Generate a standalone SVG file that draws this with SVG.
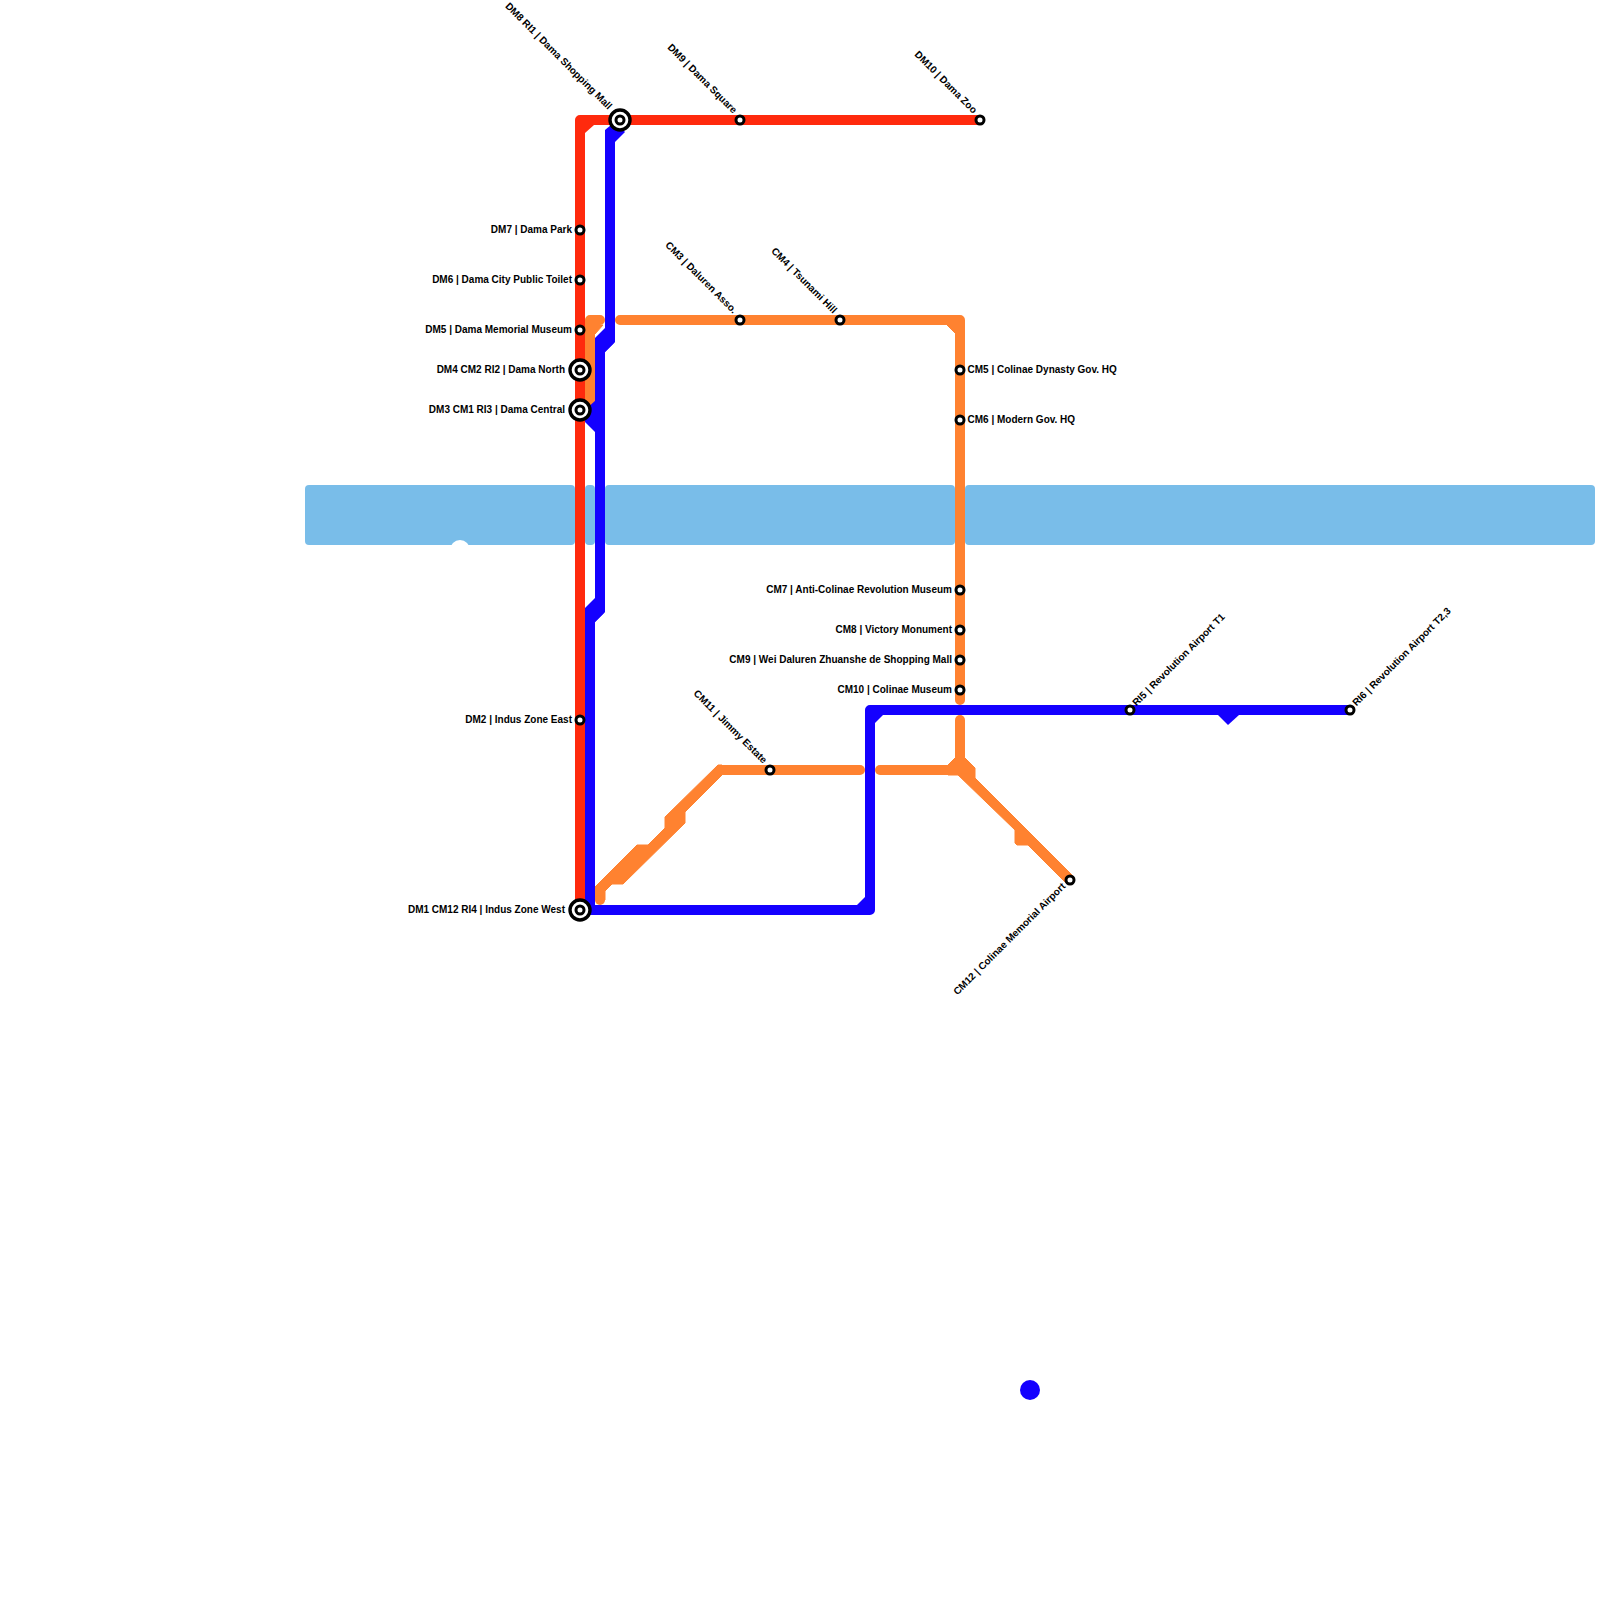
<svg xmlns="http://www.w3.org/2000/svg" width="1600" height="1600" viewBox="0 0 1600 1600">
<defs>
<style>
.w{fill:#79bde9}
.ln{fill:none;stroke-width:10;stroke-linejoin:round}
.cap{stroke-linecap:round}
.red{stroke:#ff2a0d}.rf{fill:#ff2a0d}
.blue{stroke:#1400ff}.bf{fill:#1400ff}
.org{stroke:#ff8230}.of{fill:#ff8230;stroke:#ff8230;stroke-width:1;stroke-linejoin:round}
.s{fill:#fff;stroke:#000;stroke-width:3}
.x{fill:#fff;stroke:#000;stroke-width:3.4}
text{font-family:"Liberation Sans",Arial,sans-serif;font-size:10px;font-weight:700;fill:#000}
.e{text-anchor:end}
</style>
</defs>
<rect width="1600" height="1600" fill="#fff"/>
<g id="water">
<rect class="w" x="305" y="485" width="270" height="60" rx="4"/>
<rect class="w" x="585" y="485" width="10" height="60" rx="4"/>
<rect class="w" x="605" y="485" width="350" height="60" rx="4"/>
<rect class="w" x="965" y="485" width="630" height="60" rx="4"/>
<circle cx="460" cy="550" r="10" fill="#fff"/>
</g>
<g id="connectors">
<path class="ln red" d="M580 910V120H980"/>
<path class="rf" d="M585 133L594 125H585Z"/>
<path class="ln org cap" d="M590 402V320H600"/>
<path class="of" d="M595 334L603 325H595Z"/>
<path class="ln org cap" d="M620 320H960V700"/>
<path class="of" d="M947 325L955 333V325Z"/>
<path class="ln org cap" d="M720 770H860"/>
<path class="of" d="M595 900V887L637 845H648L665 828V817L718 765H722V775L685 812V823L623 884H612L605 891V900Z"/>
<circle cx="600" cy="900" r="5" fill="#ff8230"/>
<path class="ln org cap" d="M880 770H960"/>
<path class="ln org cap" d="M960 720V770"/>
<path class="of" d="M955 758L948 765V775H960L965 775L975 778V768L965 758Z"/>
<path class="of" d="M957 774L970 773L1073.500 876.500L1066.500 883.500L1028 845H1017L1015 843V830Z"/>
<path class="ln blue" d="M610 135V340L600 350V610L590 620V910H870V710H1350"/>
<path class="bf" d="M605 130L611 125H618L625 132L615 142H605Z"/>
<path class="bf" d="M605 328L595 338V352H605L615 342V328Z"/>
<path class="bf" d="M595 598L585 608V622H595L605 612V598Z"/>
<path class="bf" d="M596 400L585 410V422L595 432Z"/>
<path class="bf" d="M875 723L883 715H875Z"/>
<path class="bf" d="M857 905L865 897V905Z"/>
<path class="bf" d="M1218 715L1228 725L1239 715Z"/>
</g>
<circle id="blue-dot" class="bf" cx="1030" cy="1390" r="10"/>
<g id="dm1"><circle class="x" cx="580" cy="910" r="10"/><circle class="s" cx="580" cy="910" r="4"/><text class="e" x="565" y="912.500">DM1 CM12 RI4 | Indus Zone West</text></g>
<g id="dm2"><circle class="s" cx="580" cy="720" r="4"/><text class="e" x="572" y="722.500">DM2 | Indus Zone East</text></g>
<g id="dm3"><circle class="x" cx="580" cy="410" r="10"/><circle class="s" cx="580" cy="410" r="4"/><text class="e" x="565" y="412.500">DM3 CM1 RI3 | Dama Central</text></g>
<g id="dm4"><circle class="x" cx="580" cy="370" r="10"/><circle class="s" cx="580" cy="370" r="4"/><text class="e" x="565" y="372.500">DM4 CM2 RI2 | Dama North</text></g>
<g id="dm5"><circle class="s" cx="580" cy="330" r="4"/><text class="e" x="572" y="332.500">DM5 | Dama Memorial Museum</text></g>
<g id="dm6"><circle class="s" cx="580" cy="280" r="4"/><text class="e" x="572" y="282.500">DM6 | Dama City Public Toilet</text></g>
<g id="dm7"><circle class="s" cx="580" cy="230" r="4"/><text class="e" x="572" y="232.500">DM7 | Dama Park</text></g>
<g id="dm8"><circle class="x" cx="620" cy="120" r="10"/><circle class="s" cx="620" cy="120" r="4"/><text class="e" transform="translate(608 110) rotate(45)">DM8 RI1 | Dama Shopping Mall</text></g>
<g id="dm9"><circle class="s" cx="740" cy="120" r="4"/><text class="e" transform="translate(733 114) rotate(45)">DM9 | Dama Square</text></g>
<g id="dm10"><circle class="s" cx="980" cy="120" r="4"/><text class="e" transform="translate(973 114) rotate(45)">DM10 | Dama Zoo</text></g>
<g id="cm3"><circle class="s" cx="740" cy="320" r="4"/><text class="e" transform="translate(733 314) rotate(45)">CM3 | Daluren Asso.</text></g>
<g id="cm4"><circle class="s" cx="840" cy="320" r="4"/><text class="e" transform="translate(833 314) rotate(45)">CM4 | Tsunami Hill</text></g>
<g id="cm5"><circle class="s" cx="960" cy="370" r="4"/><text x="967.500" y="372.500">CM5 | Colinae Dynasty Gov. HQ</text></g>
<g id="cm6"><circle class="s" cx="960" cy="420" r="4"/><text x="967.500" y="422.500">CM6 | Modern Gov. HQ</text></g>
<g id="cm7"><circle class="s" cx="960" cy="590" r="4"/><text class="e" x="952" y="592.500">CM7 | Anti-Colinae Revolution Museum</text></g>
<g id="cm8"><circle class="s" cx="960" cy="630" r="4"/><text class="e" x="952" y="632.500">CM8 | Victory Monument</text></g>
<g id="cm9"><circle class="s" cx="960" cy="660" r="4"/><text class="e" x="952" y="662.500">CM9 | Wei Daluren Zhuanshe de Shopping Mall</text></g>
<g id="cm10"><circle class="s" cx="960" cy="690" r="4"/><text class="e" x="952" y="692.500">CM10 | Colinae Museum</text></g>
<g id="cm11"><circle class="s" cx="770" cy="770" r="4"/><text class="e" transform="translate(763 764) rotate(45)">CM11 | Jimmy Estate</text></g>
<g id="cm12"><circle class="s" cx="1070" cy="880" r="4"/><text class="e" transform="translate(1066 887) rotate(-45)">CM12 | Colinae Memorial Airport</text></g>
<g id="ri5"><circle class="s" cx="1130" cy="710" r="4"/><text transform="translate(1136.500 706.500) rotate(-45)">RI5 | Revolution Airport T1</text></g>
<g id="ri6"><circle class="s" cx="1350" cy="710" r="4"/><text transform="translate(1356.500 706.500) rotate(-45)">RI6 | Revolution Airport T2,3</text></g>
</svg>
